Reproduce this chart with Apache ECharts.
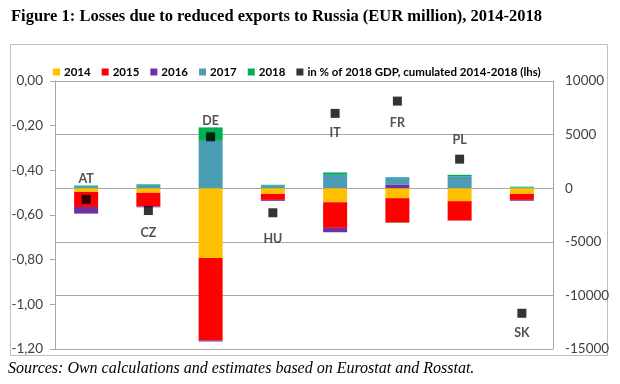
<!DOCTYPE html>
<html>
<head>
<meta charset="utf-8">
<script src="https://cdn.jsdelivr.net/npm/echarts@6/dist/echarts.min.js"></script>
<style>
html,body{margin:0;padding:0;background:#fff;}
#chart{width:620px;height:384px;}
</style>
</head>
<body>
<div id="chart"></div>
<script>
// ---- data ----
var countries = ['AT', 'CZ', 'DE', 'HU', 'IT', 'FR', 'PL', 'SK'];
var loss2014 = [-350, -430, -6510, -530, -1310, -930, -1210, -530];
var loss2015 = [-1400, -1280, -7690, -560, -2390, -2280, -1800, -560];
var loss2016 = [-620, -70, -100, -90, -410, 350, -20, -80];
var loss2017 = [200, 300, 4420, 280, 1250, 680, 1120, 60];
var loss2018 = [50, 60, 1250, 40, 220, -20, 130, 80];
var gdpShare = [-0.53, -0.58, -0.25, -0.59, -0.145, -0.09, -0.35, -1.04];
var leftTicks = { min: -1.2, max: 0, interval: 0.2 };
var rightTicks = { min: -15000, max: 10000, interval: 5000 };
var yearNames = ['2014', '2015', '2016', '2017', '2018'];
var shareName = 'in % of 2018 GDP, cumulated 2014-2018 (lhs)';

// ---- styling ----
var colors = ['#FFC000', '#FF0000', '#7030A0', '#4A9DB5', '#00B050'];
var labelPlace = { AT: ['top', 9], CZ: ['bottom', 11], DE: ['top', 5], HU: ['bottom', 15],
                   IT: ['bottom', 9], FR: ['bottom', 11], PL: ['top', 8], SK: ['bottom', 9] };
var sans = 'Lato';
var gridColor = '#A6A6A6';

var yearData = [loss2014, loss2015, loss2016, loss2017, loss2018];
var series = yearData.map(function (arr, i) {
  return {
    name: yearNames[i], type: 'bar', stack: 'loss', yAxisIndex: 1,
    barWidth: 24, itemStyle: { color: colors[i] }, data: arr.slice()
  };
});
series.push({
  name: shareName, type: 'scatter', yAxisIndex: 0, symbol: 'rect', symbolSize: 9,
  itemStyle: { color: '#000' }, z: 5,
  data: gdpShare.map(function (v, i) {
    var p = labelPlace[countries[i]];
    return { value: v, label: { position: p[0], distance: p[1] } };
  }),
  label: {
    show: true, formatter: function (p) { return countries[p.dataIndex]; },
    fontFamily: sans, fontWeight: 'bold', fontSize: 12.5, color: '#262626'
  }
});

var chart = echarts.init(document.getElementById('chart'), null, { renderer: 'canvas' });
chart.setOption({
  animation: false,
  backgroundColor: '#fff',
  title: {
    text: 'Figure 1: Losses due to reduced exports to Russia (EUR million), 2014-2018',
    left: 6, top: 3,
    textStyle: { fontFamily: 'Liberation Serif', fontWeight: 'bold', fontSize: 16.5, color: '#000' }
  },
  graphic: [
    { type: 'rect', shape: { x: 10.5, y: 44.5, width: 597, height: 311 },
      style: { fill: 'none', stroke: '#BFBFBF', lineWidth: 1 }, silent: true },
    { type: 'text', left: 8, top: 361,
      style: { text: 'Sources: Own calculations and estimates based on Eurostat and Rosstat.',
               font: 'italic 16px "Liberation Serif"', fill: '#000' } }
  ],
  legend: {
    left: 48, top: 61, itemWidth: 7, itemHeight: 7, itemGap: 11,
    icon: 'rect',
    textStyle: { fontFamily: sans, fontWeight: 'bold', fontSize: 11.5, color: '#000', padding: [0, 0, 0, -1] },
    data: yearNames.concat([shareName])
  },
  grid: { left: 55, right: 67, top: 81, bottom: 35 },
  xAxis: {
    type: 'category', data: countries,
    axisLine: { show: false }, axisTick: { show: false }, axisLabel: { show: false },
    splitLine: { show: false }
  },
  yAxis: [
    {
      type: 'value', position: 'left', min: leftTicks.min, max: leftTicks.max, interval: leftTicks.interval,
      axisLine: { show: true, lineStyle: { color: gridColor } },
      axisTick: { show: true, length: 5, lineStyle: { color: gridColor } },
      splitLine: { show: false },
      axisLabel: { margin: 12, fontFamily: sans, fontSize: 13.5, color: '#404040',
                   formatter: function (v) { return v.toFixed(2).replace('.', ','); } }
    },
    {
      type: 'value', position: 'right', min: rightTicks.min, max: rightTicks.max, interval: rightTicks.interval,
      axisLine: { show: true, lineStyle: { color: gridColor } },
      axisTick: { show: true, inside: true, length: 5, lineStyle: { color: gridColor } },
      splitLine: { show: true, lineStyle: { color: gridColor, width: 1 } },
      axisLabel: { margin: 12, fontFamily: sans, fontSize: 13.5, color: '#404040',
                   formatter: function (v) { return String(v); } }
    }
  ],
  series: series
});
</script>
</body>
</html>
